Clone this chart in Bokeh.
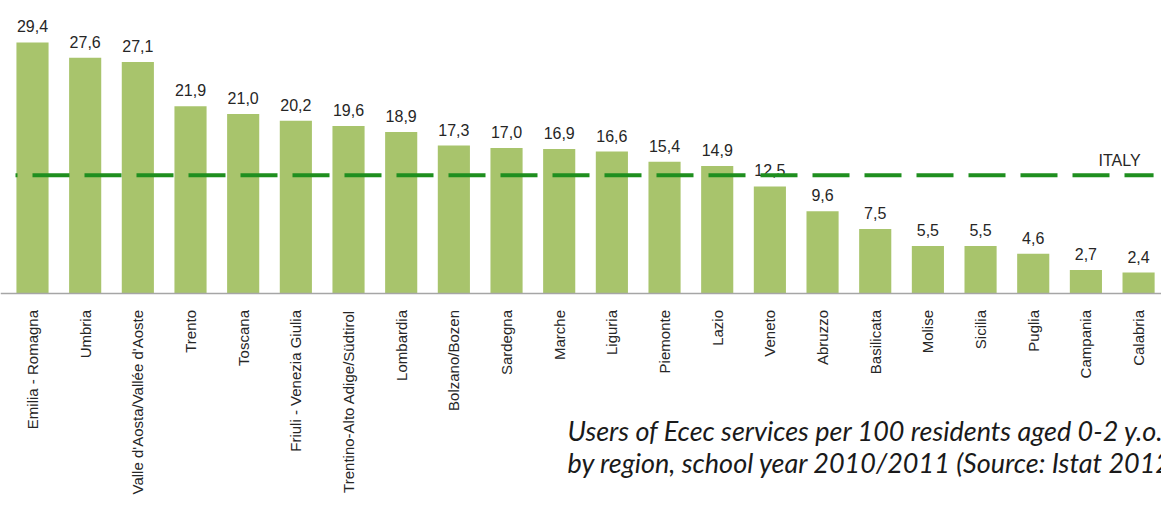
from math import pi
from bokeh.plotting import figure
from bokeh.models import Range1d, FixedTicker, LinearAxis, ColumnDataSource
from bokeh.core.properties import value
from bokeh.embed import file_html
from bokeh.resources import INLINE

regions = ["Emilia - Romagna", "Umbria", "Valle d'Aosta/Vallée d'Aoste", "Trento", "Toscana",
           "Friuli - Venezia Giulia", "Trentino-Alto Adige/Südtirol", "Lombardia", "Bolzano/Bozen",
           "Sardegna", "Marche", "Liguria", "Piemonte", "Lazio", "Veneto", "Abruzzo", "Basilicata",
           "Molise", "Sicilia", "Puglia", "Campania", "Calabria"]
users = [29.4, 27.6, 27.1, 21.9, 21.0, 20.2, 19.6, 18.9, 17.3, 17.0, 16.9, 16.6, 15.4, 14.9,
         12.5, 9.6, 7.5, 5.5, 5.5, 4.6, 2.7, 2.4]
italy_avg = 13.8
italy_label = "ITALY"
caption_lines = ["Users of Ecec services per 100 residents aged 0-2 y.o.",
                 "by region, school year 2010/2011 (Source: Istat 2012)"]

n = len(regions)
xs = list(range(n))
labels = [f"{v:.1f}".replace(".", ",") for v in users]
src = ColumnDataSource(dict(x=xs, top=users, lab=labels))

PX_X = 52.67      # pixels per category step
PX_Y = 8.524      # pixels per unit
W, H = 1161, 507
BASE = 292.5      # baseline distance from top, px
X0 = 32           # first bar centre, px

p = figure(frame_width=W, frame_height=H, output_backend="svg", toolbar_location=None,
           x_range=Range1d(-X0 / PX_X, (W - X0) / PX_X),
           y_range=Range1d(-(H - BASE) / PX_Y, BASE / PX_Y),
           x_axis_location=None, y_axis_location=None,
           min_border_left=0, min_border_right=0, min_border_top=0, min_border_bottom=0)
p.outline_line_color = None
p.grid.visible = False
p.background_fill_color = "white"
p.border_fill_color = "white"

p.vbar(x="x", top="top", bottom=0, width=0.61, source=src, fill_color="#a8c46c", line_color=None)

p.text(x="x", y="top", text="lab", source=src, text_align="center", text_baseline="alphabetic",
       y_offset=-16, text_font=value("Liberation Sans"), text_font_size="16px", text_color="#262626")

# Italy reference line
p.segment(x0=[-17 / PX_X], x1=[n - 1 + 15 / PX_X], y0=[italy_avg], y1=[italy_avg],
          line_color="#1f8f1f", line_width=4, line_dash="37 15", line_dash_offset=35)
p.text(x=[n - 1 - 40 / PX_X], y=[italy_avg], text=[italy_label], text_align="left",
       text_baseline="alphabetic", y_offset=-15, text_font=value("Liberation Sans"),
       text_font_size="16px", text_color="#262626")

ax = LinearAxis(fixed_location=0)
ax.ticker = FixedTicker(ticks=xs)
ax.major_label_overrides = {i: r for i, r in enumerate(regions)}
ax.major_label_orientation = pi / 2
ax.major_tick_line_color = None
ax.minor_tick_line_color = None
ax.axis_line_color = "#a6a6a6"
ax.axis_line_width = 1.5
ax.major_label_standoff = 11
ax.major_label_text_font = "Liberation Sans"
ax.major_label_text_font_size = "15px"
ax.major_label_text_color = "#262626"
p.add_layout(ax, "below")

cap_x = (567 - X0) / PX_X
cap_y = [-(429.5 - BASE) / PX_Y, -(461.5 - BASE) / PX_Y]
p.text(x=[cap_x, cap_x], y=cap_y, text=caption_lines, text_align="left", text_baseline="alphabetic",
       text_font=value("Lato"), text_font_style="italic", text_font_size="27px", text_color="#1a1a1a")

open("out.html", "w").write(file_html(p, INLINE))
